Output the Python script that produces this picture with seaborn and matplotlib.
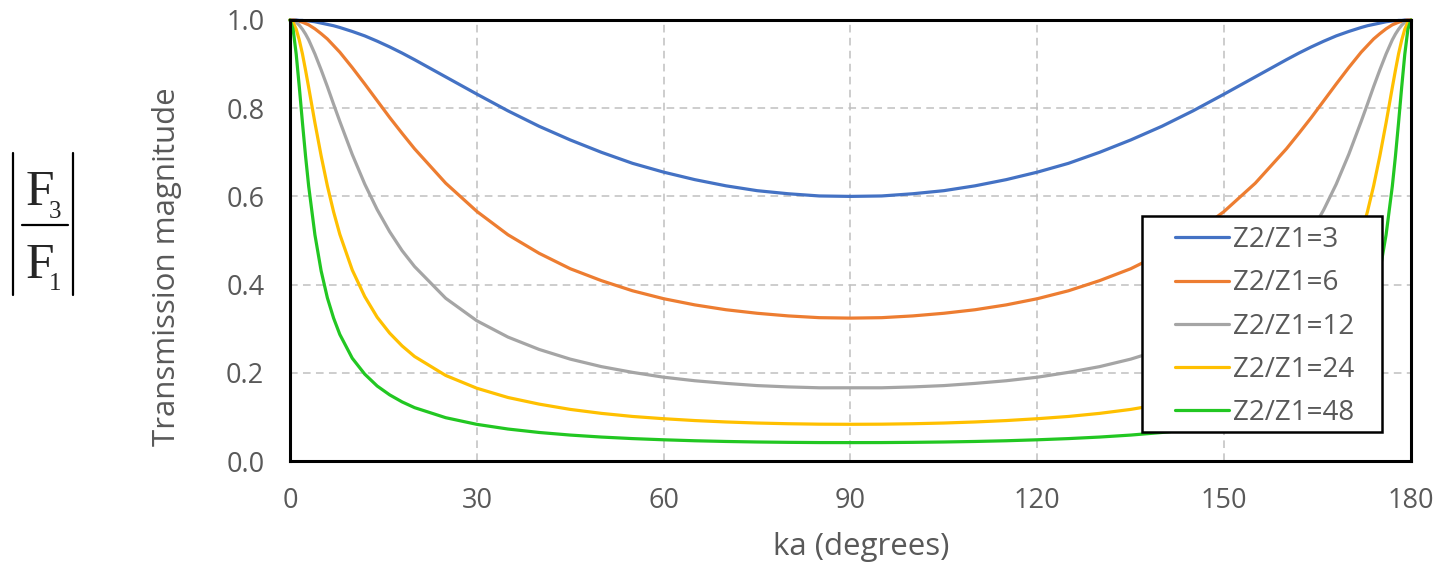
import matplotlib
matplotlib.use("Agg")
import matplotlib.pyplot as plt
from matplotlib.lines import Line2D
from matplotlib.patches import Rectangle
import pandas as pd
import seaborn as sns

# ka in degrees, sampled denser where the curves bend fast
ka = [0, 0.5, 1, 1.5, 2, 2.5, 3, 4, 5, 6, 7, 8, 10, 12, 14, 16, 18, 20,
      25, 30, 35, 40, 45, 50, 55, 60, 65, 70, 75, 80, 85, 90,
      95, 100, 105, 110, 115, 120, 125, 130, 135, 140, 145, 150, 155,
      160, 162, 164, 166, 168, 170, 172, 173, 174, 175, 176,
      177, 177.5, 178, 178.5, 179, 179.5, 180]

z3 = [1.000, 1.000, 1.000, 0.999, 0.999, 0.998, 0.998, 0.996, 0.993, 0.990, 0.987, 0.983,
      0.974, 0.964, 0.952, 0.939, 0.925, 0.910, 0.871, 0.832, 0.794, 0.759, 0.728, 0.700,
      0.675, 0.655, 0.638, 0.624, 0.613, 0.606, 0.601, 0.600,
      0.601, 0.606, 0.613, 0.624, 0.638, 0.655, 0.675, 0.700, 0.728, 0.759, 0.794, 0.832,
      0.871, 0.910, 0.925, 0.939, 0.952, 0.964, 0.974, 0.983, 0.987, 0.990, 0.993, 0.996,
      0.998, 0.998, 0.999, 0.999, 1.000, 1.000, 1.000]

z6 = [1.000, 1.000, 0.999, 0.997, 0.995, 0.992, 0.989, 0.980, 0.969, 0.957, 0.942, 0.927,
      0.892, 0.855, 0.817, 0.779, 0.743, 0.708, 0.630, 0.566, 0.513, 0.471, 0.436, 0.409,
      0.386, 0.368, 0.354, 0.343, 0.335, 0.329, 0.325, 0.324,
      0.325, 0.329, 0.335, 0.343, 0.354, 0.368, 0.386, 0.409, 0.436, 0.471, 0.513, 0.566,
      0.630, 0.708, 0.743, 0.779, 0.817, 0.855, 0.892, 0.927, 0.942, 0.957, 0.969, 0.980,
      0.989, 0.992, 0.995, 0.997, 0.999, 1.000, 1.000]

z12 = [1.000, 0.999, 0.995, 0.988, 0.979, 0.968, 0.955, 0.923, 0.887, 0.849, 0.809, 0.770,
       0.695, 0.628, 0.570, 0.520, 0.477, 0.441, 0.369, 0.318, 0.281, 0.253, 0.231, 0.214,
       0.201, 0.190, 0.182, 0.176, 0.171, 0.168, 0.166, 0.166,
       0.166, 0.168, 0.171, 0.176, 0.182, 0.190, 0.201, 0.214, 0.231, 0.253, 0.281, 0.318,
       0.369, 0.441, 0.477, 0.520, 0.570, 0.628, 0.695, 0.770, 0.809, 0.849, 0.887, 0.923,
       0.955, 0.968, 0.979, 0.988, 0.995, 0.999, 1.000]

z24 = [1.000, 0.995, 0.979, 0.954, 0.923, 0.886, 0.847, 0.767, 0.692, 0.624, 0.565, 0.514,
       0.433, 0.373, 0.326, 0.290, 0.261, 0.237, 0.194, 0.165, 0.144, 0.129, 0.117, 0.108,
       0.101, 0.0959, 0.0917, 0.0885, 0.0861, 0.0845, 0.0835, 0.0832,
       0.0835, 0.0845, 0.0861, 0.0885, 0.0917, 0.0959, 0.101, 0.108, 0.117, 0.129, 0.144, 0.165,
       0.194, 0.237, 0.261, 0.290, 0.326, 0.373, 0.433, 0.514, 0.565, 0.624, 0.692, 0.767,
       0.847, 0.886, 0.923, 0.954, 0.979, 0.995, 1.000]

z48 = [1.000, 0.979, 0.922, 0.847, 0.767, 0.691, 0.623, 0.513, 0.431, 0.370, 0.324, 0.287,
       0.233, 0.197, 0.170, 0.150, 0.134, 0.121, 0.0982, 0.0831, 0.0725, 0.0647, 0.0588, 0.0543,
       0.0508, 0.0481, 0.0459, 0.0443, 0.0431, 0.0423, 0.0418, 0.0417,
       0.0418, 0.0423, 0.0431, 0.0443, 0.0459, 0.0481, 0.0508, 0.0543, 0.0588, 0.0647, 0.0725, 0.0831,
       0.0982, 0.121, 0.134, 0.150, 0.170, 0.197, 0.233, 0.287, 0.324, 0.370, 0.431, 0.513,
       0.623, 0.691, 0.767, 0.847, 0.922, 0.979, 1.000]

names = ["Z2/Z1=3", "Z2/Z1=6", "Z2/Z1=12", "Z2/Z1=24", "Z2/Z1=48"]
series = [z3, z6, z12, z24, z48]
colors = ["#4472C4", "#ED7D31", "#A5A5A5", "#FFC000", "#22C722"]

df = pd.concat([pd.DataFrame({"ka": ka, "T": s, "ratio": n}) for n, s in zip(names, series)],
               ignore_index=True)

sns.set_style("white")
plt.rcParams["font.family"] = ["Open Sans", "DejaVu Sans"]

W, H = 1441, 565
grey = "#595959"
fig = plt.figure(figsize=(W / 100, H / 100), dpi=100)
ax = fig.add_axes([290 / W, 1 - 461 / H, 1121 / W, 441 / H])


def fx(px):
    return px / W


def fy(py):
    return 1 - py / H


sns.lineplot(data=df, x="ka", y="T", hue="ratio", hue_order=names, palette=colors,
             linewidth=2.3, estimator=None, sort=False, ax=ax, legend=True)
for ln in ax.lines:
    ln.set_clip_on(False)

ax.set_xlim(0, 180)
ax.set_ylim(0, 1)
ax.set_xticks(range(0, 181, 30))
ax.set_yticks([0, 0.2, 0.4, 0.6, 0.8, 1.0])
ax.yaxis.set_major_formatter("{x:.1f}")
ax.grid(True, color="#C0C0C0", linestyle=(0, (5, 3.5)), linewidth=1.1)
ax.set_axisbelow(True)
for sp in ax.spines.values():
    sp.set_color("black")
    sp.set_linewidth(2.2)
ax.tick_params(direction="inout", length=13, width=2.2, color="black",
               labelcolor=grey, labelsize=19.5)
ax.tick_params(axis="y", pad=12)
ax.tick_params(axis="x", pad=12)
ax.set_xlabel("")
ax.set_ylabel("")

fig.text(fx(167), fy(267), "Transmission magnitude", rotation=90,
         ha="center", va="center", fontsize=22.5, color=grey)
fig.text(fx(861), fy(547), "ka (degrees)", ha="center", va="center",
         fontsize=22.5, color=grey)

# |F3 / F1| drawn as separate serif pieces
serif = ["Liberation Serif", "DejaVu Serif"]
fig.text(fx(26), fy(205), "F", family=serif, fontsize=37, va="baseline", ha="left")
fig.text(fx(49), fy(218), "3", family=serif, fontsize=18, va="baseline", ha="left")
fig.text(fx(26), fy(278), "F", family=serif, fontsize=37, va="baseline", ha="left")
fig.text(fx(49), fy(290), "1", family=serif, fontsize=18, va="baseline", ha="left")
for xs, ys in [([22, 68], [225, 225]), ([13, 13], [153, 295]), ([73, 73], [153, 295])]:
    fig.add_artist(Line2D([fx(v) for v in xs], [fy(v) for v in ys],
                          transform=fig.transFigure, color="black", linewidth=1.6))

# legend box
ax.add_patch(Rectangle(((1142 - 290) / 1121, (461 - 432) / 441), 240 / 1121, 216 / 441,
                       transform=ax.transAxes, facecolor="white", edgecolor="black",
                       linewidth=1.8, zorder=4, clip_on=False))
handles, labels = ax.get_legend_handles_labels()
leg = ax.legend(handles, labels, loc="upper left",
                bbox_to_anchor=((1175 - 290) / 1121, (461 - 226) / 441),
                fontsize=20, frameon=False, handlelength=1.95, labelspacing=0.55,
                borderpad=0, borderaxespad=0, handletextpad=0.15)
leg.set_zorder(5)
for t in leg.get_texts():
    t.set_color(grey)
for h in leg.get_lines():
    h.set_linewidth(2.3)

fig.savefig("out.png", dpi=100)
